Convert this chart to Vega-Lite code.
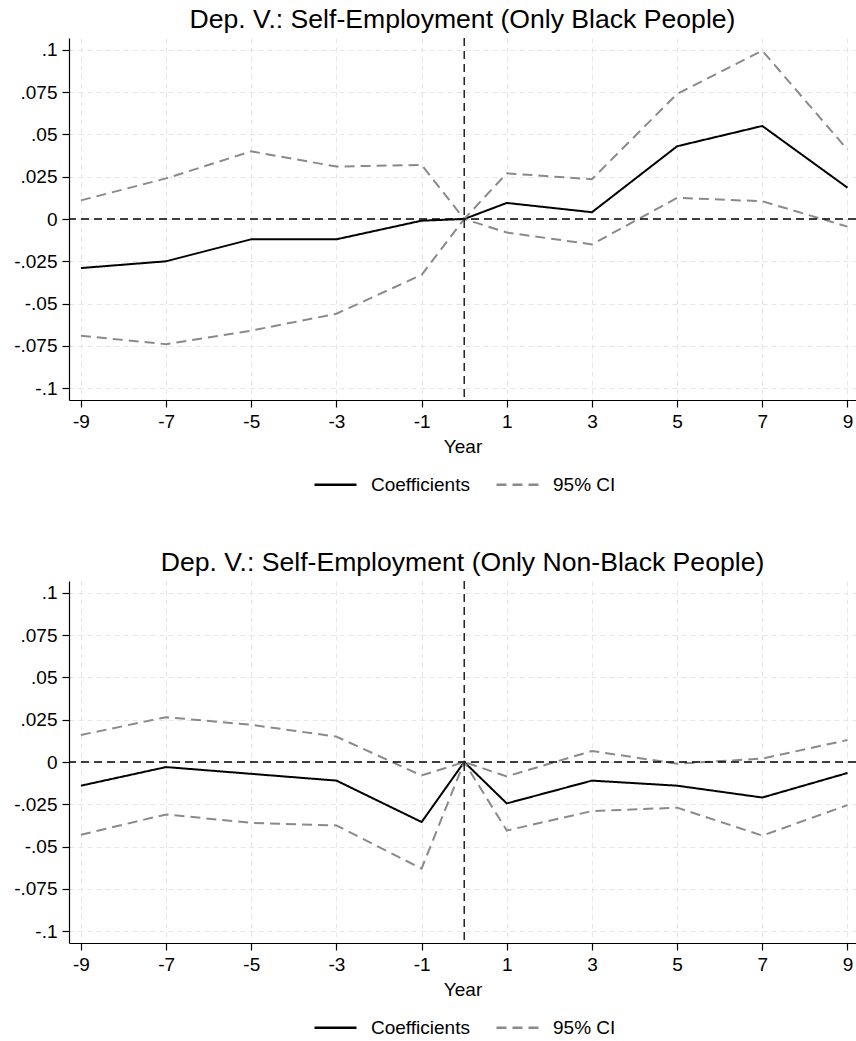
{
  "$schema": "https://vega.github.io/schema/vega-lite/v6.json",
  "padding": {"left": 13, "top": 6, "right": 0, "bottom": 0},
  "background": "white",
  "datasets": {
    "est": [
      {"p": "B", "year": -9, "coef": -0.029, "lo": -0.069, "hi": 0.011},
      {"p": "B", "year": -7, "coef": -0.025, "lo": -0.074, "hi": 0.024},
      {"p": "B", "year": -5, "coef": -0.012, "lo": -0.066, "hi": 0.040},
      {"p": "B", "year": -3, "coef": -0.012, "lo": -0.056, "hi": 0.031},
      {"p": "B", "year": -1, "coef": -0.001, "lo": -0.033, "hi": 0.032},
      {"p": "B", "year": 0, "coef": 0, "lo": 0, "hi": 0},
      {"p": "B", "year": 1, "coef": 0.0095, "lo": -0.008, "hi": 0.027},
      {"p": "B", "year": 3, "coef": 0.004, "lo": -0.015, "hi": 0.0235},
      {"p": "B", "year": 5, "coef": 0.043, "lo": 0.0125, "hi": 0.074},
      {"p": "B", "year": 7, "coef": 0.055, "lo": 0.0105, "hi": 0.0995},
      {"p": "B", "year": 9, "coef": 0.0185, "lo": -0.0045, "hi": 0.041},
      {"p": "N", "year": -9, "coef": -0.014, "lo": -0.043, "hi": 0.016},
      {"p": "N", "year": -7, "coef": -0.003, "lo": -0.031, "hi": 0.0265},
      {"p": "N", "year": -5, "coef": -0.007, "lo": -0.036, "hi": 0.022},
      {"p": "N", "year": -3, "coef": -0.011, "lo": -0.0375, "hi": 0.015},
      {"p": "N", "year": -1, "coef": -0.0355, "lo": -0.063, "hi": -0.008},
      {"p": "N", "year": 0, "coef": 0, "lo": 0, "hi": 0},
      {"p": "N", "year": 1, "coef": -0.0245, "lo": -0.0405, "hi": -0.0085},
      {"p": "N", "year": 3, "coef": -0.011, "lo": -0.029, "hi": 0.0065},
      {"p": "N", "year": 5, "coef": -0.014, "lo": -0.027, "hi": -0.001},
      {"p": "N", "year": 7, "coef": -0.021, "lo": -0.0435, "hi": 0.002},
      {"p": "N", "year": 9, "coef": -0.0065, "lo": -0.0255, "hi": 0.013}
    ],
    "names": [
      {"line": "coef", "series": "Coefficients"},
      {"line": "lo", "series": "95% CI"},
      {"line": "hi", "series": "95% CI"}
    ]
  },
  "data": {"name": "est"},
  "spacing": 54,
  "resolve": {"legend": {"color": "independent", "strokeDash": "independent"}, "scale": {"x": "independent", "y": "independent", "color": "independent", "strokeDash": "independent"}},
  "vconcat": [
    {
      "width": 787,
      "height": 362,
      "title": {"text": "Dep. V.: Self-Employment (Only Black People)"},
      "layer": [
        {
          "transform": [
            {"filter": "datum.p == 'B'"},
            {"fold": ["coef", "lo", "hi"], "as": ["line", "v"]},
            {"lookup": "line", "from": {"data": {"name": "names"}, "key": "line", "fields": ["series"]}}
          ],
          "mark": {"type": "line", "strokeWidth": 2},
          "encoding": {
            "x": {"field": "year", "type": "quantitative", "scale": {"domain": [-9.28, 9.2], "nice": false, "zero": false},
                  "axis": {"values": [-9, -7, -5, -3, -1, 1, 3, 5, 7, 9], "title": "Year",
                           "labelExpr": "replace(format(datum.value, 'd'), '\u2212', '-')"}},
            "y": {"field": "v", "type": "quantitative", "scale": {"domain": [-0.107, 0.107], "nice": false, "zero": false},
                  "axis": {"values": [-0.1, -0.075, -0.05, -0.025, 0, 0.025, 0.05, 0.075, 0.1], "title": null,
                           "labelExpr": "replace(replace(format(datum.value, '.3~f'), '\u2212', '-'), '0.', '.')"}},
            "color": {"field": "series", "type": "nominal", "scale": {"domain": ["Coefficients", "95% CI"], "range": ["#000000", "#8a8a8a"]}, "legend": {"title": null}},
            "strokeDash": {"field": "series", "type": "nominal", "scale": {"domain": ["Coefficients", "95% CI"], "range": [[1, 0], [10, 6]]}, "legend": {"title": null}},
            "detail": {"field": "line", "type": "nominal"}
          }
        },
        {
          "data": {"values": [{}]},
          "mark": {"type": "rule", "color": "black", "strokeDash": [8, 5], "strokeWidth": 1.3},
          "encoding": {"y": {"datum": 0}}
        },
        {
          "data": {"values": [{}]},
          "mark": {"type": "rule", "color": "black", "strokeDash": [8, 5], "strokeWidth": 1.3},
          "encoding": {"x": {"datum": 0}}
        }
      ]
    },
    {
      "width": 787,
      "height": 362,
      "title": {"text": "Dep. V.: Self-Employment (Only Non-Black People)"},
      "layer": [
        {
          "transform": [
            {"filter": "datum.p == 'N'"},
            {"fold": ["coef", "lo", "hi"], "as": ["line", "v"]},
            {"lookup": "line", "from": {"data": {"name": "names"}, "key": "line", "fields": ["series"]}}
          ],
          "mark": {"type": "line", "strokeWidth": 2},
          "encoding": {
            "x": {"field": "year", "type": "quantitative", "scale": {"domain": [-9.28, 9.2], "nice": false, "zero": false},
                  "axis": {"values": [-9, -7, -5, -3, -1, 1, 3, 5, 7, 9], "title": "Year",
                           "labelExpr": "replace(format(datum.value, 'd'), '\u2212', '-')"}},
            "y": {"field": "v", "type": "quantitative", "scale": {"domain": [-0.107, 0.107], "nice": false, "zero": false},
                  "axis": {"values": [-0.1, -0.075, -0.05, -0.025, 0, 0.025, 0.05, 0.075, 0.1], "title": null,
                           "labelExpr": "replace(replace(format(datum.value, '.3~f'), '\u2212', '-'), '0.', '.')"}},
            "color": {"field": "series", "type": "nominal", "scale": {"domain": ["Coefficients", "95% CI"], "range": ["#000000", "#8a8a8a"]}, "legend": {"title": null}},
            "strokeDash": {"field": "series", "type": "nominal", "scale": {"domain": ["Coefficients", "95% CI"], "range": [[1, 0], [10, 6]]}, "legend": {"title": null}},
            "detail": {"field": "line", "type": "nominal"}
          }
        },
        {
          "data": {"values": [{}]},
          "mark": {"type": "rule", "color": "black", "strokeDash": [8, 5], "strokeWidth": 1.3},
          "encoding": {"y": {"datum": 0}}
        },
        {
          "data": {"values": [{}]},
          "mark": {"type": "rule", "color": "black", "strokeDash": [8, 5], "strokeWidth": 1.3},
          "encoding": {"x": {"datum": 0}}
        }
      ]
    }
  ],
  "config": {
    "font": "Liberation Sans",
    "view": {"stroke": null},
    "title": {"font": "Liberation Sans", "fontSize": 26.6, "fontWeight": "normal", "color": "black", "anchor": "middle", "offset": 4},
    "axis": {
      "labelFont": "Liberation Sans", "labelFontSize": 19, "labelColor": "black",
      "titleFont": "Liberation Sans", "titleFontSize": 19, "titleFontWeight": "normal", "titleColor": "black",
      "domainColor": "black", "domainWidth": 1.2, "tickColor": "black", "tickSize": 7, "tickWidth": 1.2,
      "labelPadding": 5, "titlePadding": 6,
      "gridColor": "#e6e6e6", "gridDash": [5, 4], "gridWidth": 1, "labelFlush": false, "labelOverlap": false
    },
    "axisY": {"labelAngle": 0, "labelPadding": 5},
    "legend": {
      "orient": "none", "legendX": 244, "legendY": 424, "direction": "horizontal", "labelFont": "Liberation Sans", "labelFontSize": 19, "labelColor": "black",
      "symbolType": "stroke", "symbolSize": 1764, "symbolStrokeWidth": 2.5, "columnPadding": 21, "labelOffset": 13
    }
  }
}
